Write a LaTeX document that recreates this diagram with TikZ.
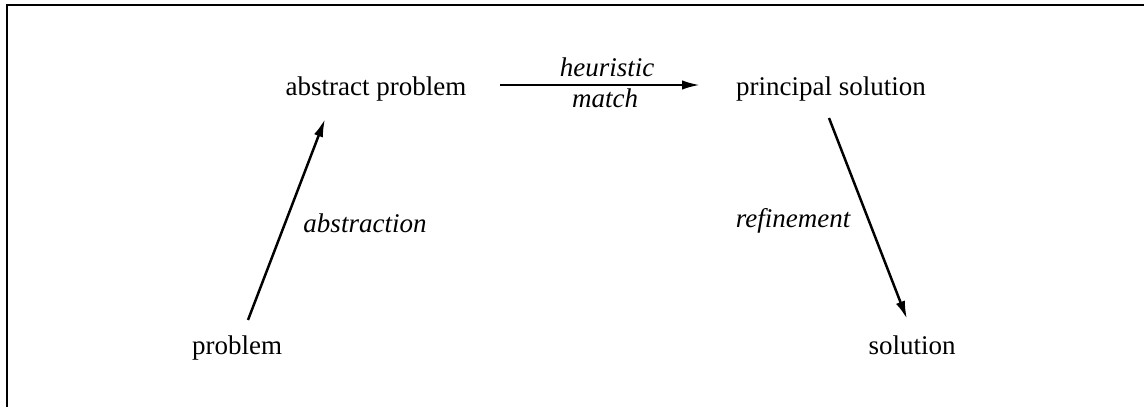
\documentclass[tikz,border=0pt]{standalone}
\usepackage{fontspec}
\setmainfont{Liberation Serif}
\usetikzlibrary{arrows.meta,calc}
\begin{document}
\begin{tikzpicture}[x=0.4444pt,y=-0.4444pt,
  lbl/.style={anchor=base,font=\fontsize{12}{14}\selectfont,inner sep=0pt},
  ilbl/.style={lbl,font=\fontsize{12}{14}\selectfont\itshape},
  arr/.style={line width=1.1pt,-{Latex[length=8pt,width=4.2pt]}},
  frame/.style={line width=0.9pt}]
\useasboundingbox (0,0) rectangle (1144,407);
\draw[frame] (7,407) -- (7,5) -- (1144,5);
\node[lbl] (ap) at (376,96) {abstract problem};
\node[lbl] (ps) at (831,96) {principal solution};
\node[lbl] (p) at (237,355) {problem};
\node[lbl] (s) at (912,355) {solution};
\node[ilbl] (h) at (607,77) {heuristic};
\node[ilbl] (m) at (605,108) {match};
\node[ilbl] (a) at (365,233) {abstraction};
\node[ilbl] (r) at (793,228) {refinement};
\draw[arr] ($(p.base)+(11,-35)$) -- ($(ap.base)+(-51,23)$);
\draw[arr] ($(ap.base)+(124,-11)$) -- ($(ps.base)+(-131,-11)$);
\draw[arr] ($(ps.base)+(-2,22)$) -- ($(s.base)+(-5,-36)$);
\end{tikzpicture}
\end{document}
